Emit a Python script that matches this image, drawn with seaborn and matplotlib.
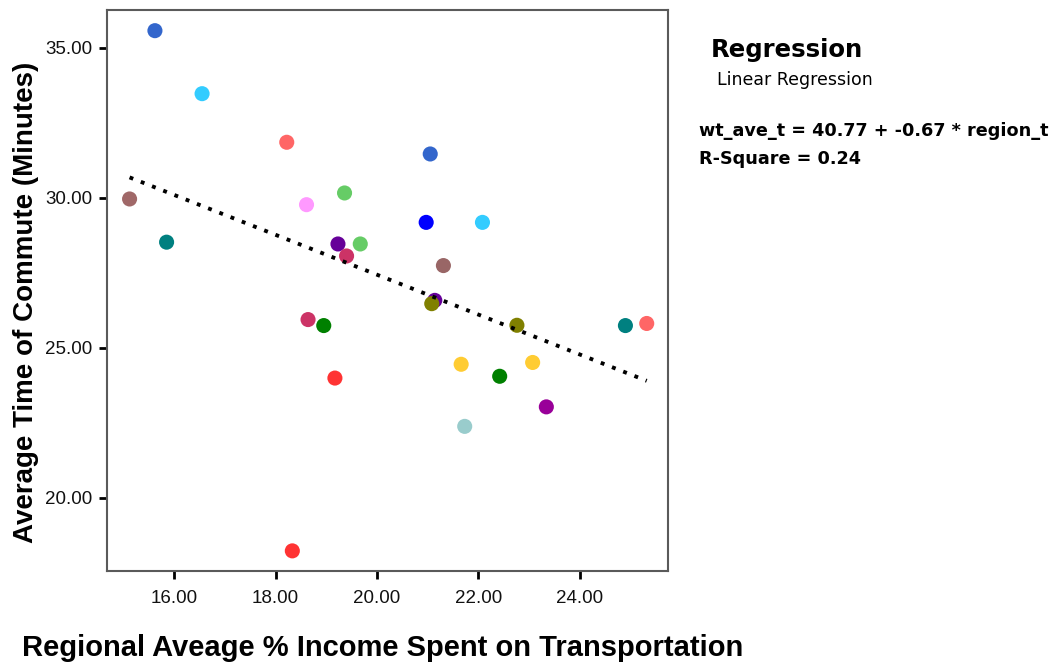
import matplotlib
matplotlib.use("Agg")
import matplotlib.pyplot as plt
import seaborn as sns
import pandas as pd

# values (one dot per region)
region_t = [15.12, 15.62, 15.85, 16.55, 18.22, 18.61, 19.23, 19.36, 19.40, 19.67,
            20.97, 21.05, 22.08, 21.31, 21.14, 21.08, 18.64, 18.95, 19.17, 18.33,
            22.76, 21.66, 22.42, 23.07, 23.34, 21.73, 24.90, 25.32]
wt_ave_t = [29.96, 35.57, 28.52, 33.47, 31.85, 29.77, 28.46, 30.16, 28.06, 28.46,
            29.18, 31.46, 29.18, 27.74, 26.58, 26.47, 25.94, 25.74, 23.99, 18.23,
            25.75, 24.45, 24.05, 24.51, 23.03, 22.38, 25.74, 25.81]
dot_colors = ["#a06868", "#3366cc", "#008080", "#33ccff", "#ff6666", "#ff99ff",
              "#660099", "#66cc66", "#cc3366", "#66cc66", "#0000ff", "#3366cc",
              "#33ccff", "#996666", "#660099", "#808000", "#cc3366", "#008000",
              "#ff3333", "#ff3333", "#808000", "#ffcc33", "#008000", "#ffcc33",
              "#990099", "#99cccc", "#008080", "#ff6666"]

x_ticks = [16, 18, 20, 22, 24]
y_ticks = [20, 25, 30, 35]

df = pd.DataFrame({"region_t": region_t, "wt_ave_t": wt_ave_t, "color": dot_colors})

sns.set_style("white")
plt.rcParams["text.color"] = "black"
narrow = ["Liberation Sans Narrow", "Liberation Sans", "DejaVu Sans"]

fig = plt.figure(figsize=(10.6, 6.65), dpi=100)
ax = fig.add_axes([0.1012, 0.1414, 0.529, 0.8436])

# points, drawn first so the fit line sits on top
sns.scatterplot(data=df, x="region_t", y="wt_ave_t", hue="color",
                palette={c: c for c in dot_colors}, s=118, linewidth=0,
                legend=False, ax=ax, zorder=3)

# linear fit line (dotted)
sns.regplot(data=df, x="region_t", y="wt_ave_t", scatter=False, ci=None, ax=ax,
            line_kws={"color": "black", "lw": 2.8, "linestyle": (0, (1.0, 2.1)),
                      "zorder": 4})

ax.set_xlim(14.68, 25.74)
ax.set_ylim(17.56, 36.26)
ax.set_xticks(x_ticks)
ax.set_yticks(y_ticks)
ax.set_xticklabels([f"{v:.2f}" for v in x_ticks], family=narrow, fontsize=13.5)
ax.set_yticklabels([f"{v:.2f}" for v in y_ticks], family=narrow, fontsize=13.5)
ax.tick_params(axis="both", bottom=True, left=True, direction="out", length=6,
               width=2, color="black", pad=5, labelcolor="#111111")
ax.tick_params(axis="x", pad=8)
for sp in ax.spines.values():
    sp.set_color("#5a5a5a")
    sp.set_linewidth(1.5)
ax.set_xlabel("")
ax.set_ylabel("")

fig.text(25.6 / 1060, 1 - 302 / 665, "Average Time of Commute (Minutes)",
         rotation=90, ha="center", va="center", fontsize=20, fontweight="bold",
         family=["Liberation Sans", "DejaVu Sans"])
fig.text(383 / 1060, 1 - 648 / 665, "Regional Aveage % Income Spent on Transportation",
         ha="center", va="center", fontsize=21, fontweight="bold", family=narrow)

# regression summary on the right
fig.text(711 / 1060, 1 - 50 / 665, "Regression", ha="left", va="center",
         fontsize=17.6, fontweight="bold", family="DejaVu Sans")
fig.text(717 / 1060, 1 - 80 / 665, "Linear Regression", ha="left", va="center",
         fontsize=12.5, family="DejaVu Sans")
fig.text(699 / 1060, 1 - 131 / 665, "wt_ave_t = 40.77 + -0.67 * region_t",
         ha="left", va="center", fontsize=12.7, fontweight="bold", family="DejaVu Sans")
fig.text(699 / 1060, 1 - 159 / 665, "R-Square = 0.24",
         ha="left", va="center", fontsize=12.7, fontweight="bold", family="DejaVu Sans")

fig.savefig("out.png", dpi=100, facecolor="white")
